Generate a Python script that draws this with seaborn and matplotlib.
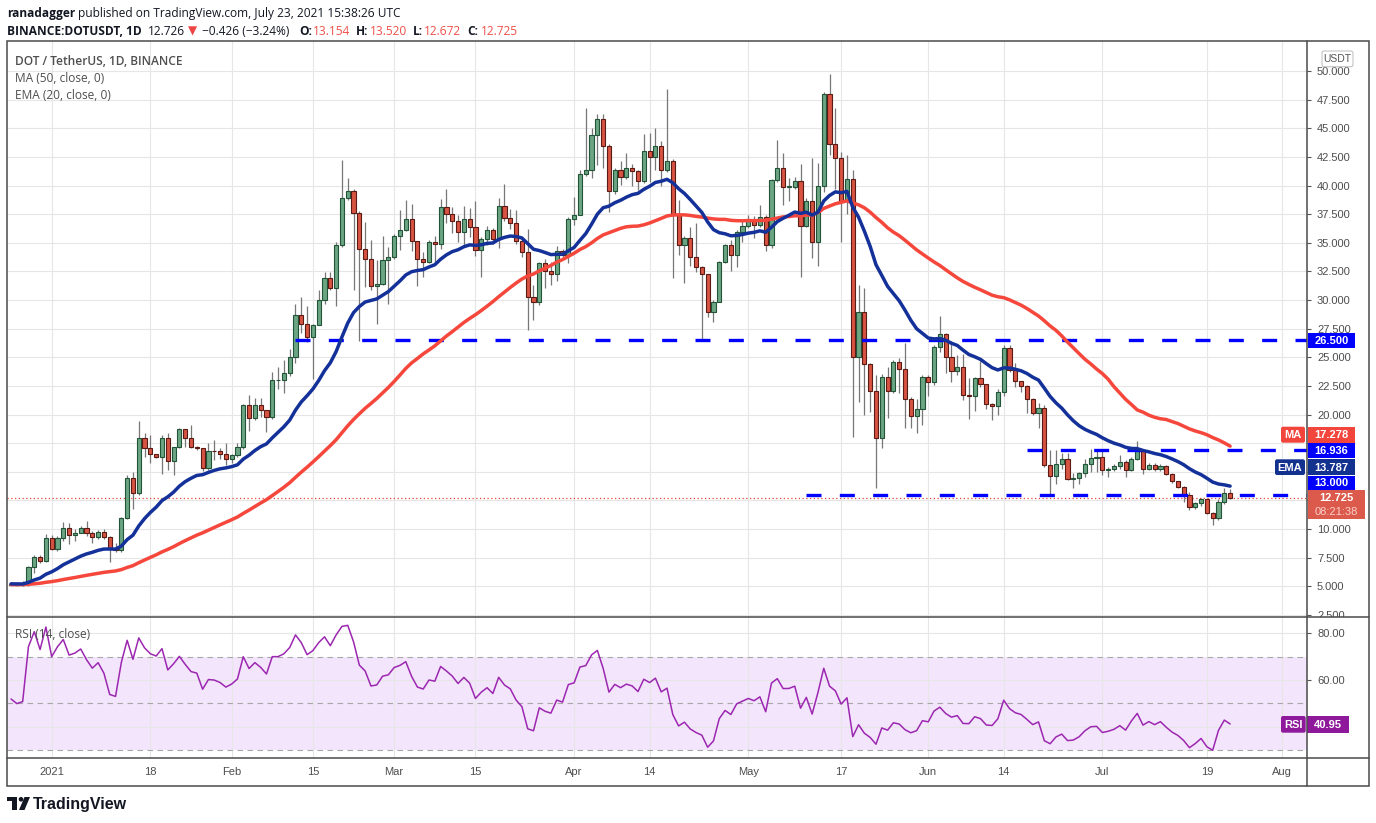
import numpy as np
import pandas as pd
import matplotlib
matplotlib.use("Agg")
import matplotlib.pyplot as plt
import seaborn as sns
from matplotlib.patches import Rectangle, FancyBboxPatch, Circle, Polygon
from matplotlib.transforms import Bbox, TransformedBbox

# ---------------- data (DOT/USDT daily) ----------------
start_date = "2020-12-25"
first_open = 5.15

dec_close = [5.22, 5.15, 5.18, 6.65, 7.60, 7.23, 9.25]
dec_high = [5.35, 5.30, 5.45, 6.79, 7.72, 7.72, 9.54]
dec_low = [5.10, 5.05, 5.00, 5.05, 6.16, 7.08, 7.17]

jan_close = [8.30, 9.25, 10.10, 9.48, 9.68, 10.10, 9.68, 9.33, 9.77, 9.33, 8.30, 8.20, 11.00, 14.45, 13.15,
             17.92, 17.05, 16.53, 16.33, 17.92, 15.95, 17.14, 18.70, 17.92, 17.20, 17.05, 15.38, 16.85, 16.80,
             16.56, 16.12]
jan_high = [9.48, 9.40, 10.60, 10.55, 9.97, 10.26, 10.72, 9.83, 9.88, 10.03, 9.40, 8.76, 11.07, 14.74, 15.03,
            19.42, 18.35, 18.20, 16.60, 18.20, 18.35, 17.20, 18.82, 18.70, 19.07, 17.30, 17.10, 17.54, 17.80,
            17.08, 17.50]
jan_low = [8.18, 8.10, 8.96, 8.73, 9.00, 9.68, 9.39, 8.82, 9.10, 9.10, 7.17, 8.00, 8.00, 10.90, 11.76,
           13.00, 16.27, 15.75, 16.20, 14.83, 15.17, 14.74, 17.10, 17.20, 17.05, 16.90, 15.09, 15.20, 16.07,
           16.12, 15.63]

feb_close = [16.50, 17.14, 20.80, 19.70, 20.80, 20.36, 19.75, 23.00, 23.00, 23.60, 25.00, 28.67, 27.95, 26.80,
             27.80, 30.04, 31.95, 31.08, 34.82, 38.90, 39.50, 37.60, 34.47, 33.60, 31.20, 31.43, 33.46, 33.80]
feb_high = [16.60, 17.50, 20.93, 21.72, 21.43, 21.43, 20.40, 23.70, 24.12, 24.76, 25.72, 29.69, 30.27, 29.49,
            27.90, 30.90, 32.44, 32.41, 35.05, 42.20, 40.64, 39.70, 37.80, 36.80, 35.25, 33.50, 35.63, 34.60]
feb_low = [15.78, 16.30, 17.00, 18.53, 19.50, 19.83, 18.44, 19.60, 22.20, 21.86, 23.40, 24.47, 27.14, 26.36,
           23.10, 29.54, 29.63, 30.90, 29.51, 34.60, 38.70, 30.85, 26.44, 31.14, 30.85, 27.95, 31.28, 29.69]

mar_close = [35.60, 36.15, 37.10, 35.17, 33.63, 33.34, 35.10, 34.94, 38.14, 37.56, 36.92, 35.96, 37.12, 36.40,
             34.33, 35.35, 36.10, 35.35, 38.20, 37.20, 36.70, 35.17, 34.20, 30.23, 29.80, 33.20, 32.56, 32.24,
             34.30, 33.98, 37.12]
mar_high = [35.78, 37.86, 38.72, 38.43, 35.20, 34.20, 35.29, 35.58, 38.87, 39.68, 38.14, 37.47, 38.23, 38.05,
            38.63, 35.50, 36.48, 36.30, 38.92, 40.12, 37.99, 37.85, 35.30, 36.19, 31.31, 33.34, 33.63, 33.34,
            34.71, 34.50, 37.27]
mar_low = [33.60, 34.33, 36.00, 34.30, 31.25, 32.03, 33.20, 33.34, 34.50, 36.69, 35.87, 35.09, 34.65, 35.52,
           33.84, 32.03, 34.80, 34.90, 34.56, 36.90, 36.25, 34.90, 33.78, 27.38, 28.26, 29.60, 31.02, 31.31,
           31.69, 33.70, 33.20]

apr_close = [37.47, 41.05, 41.40, 44.40, 45.84, 43.43, 39.50, 41.34, 40.76, 41.57, 41.28, 40.40, 42.99, 42.50,
             43.43, 41.40, 42.12, 37.40, 34.77, 35.40, 33.78, 32.90, 32.24, 28.92, 29.80, 33.34, 34.85, 33.98,
             35.96, 36.48]
apr_high = [39.01, 41.40, 46.80, 45.03, 46.28, 46.28, 43.60, 41.57, 42.12, 42.85, 41.92, 41.40, 44.53, 44.60,
            45.06, 43.87, 48.40, 42.30, 38.72, 35.60, 36.40, 36.77, 33.00, 32.30, 30.00, 33.40, 34.94, 35.23,
            36.10, 37.03]
apr_low = [36.54, 37.40, 40.80, 40.70, 41.83, 41.54, 37.70, 39.22, 40.03, 40.60, 39.94, 39.59, 40.20, 40.32,
           41.34, 39.94, 41.20, 31.95, 33.92, 31.51, 32.99, 32.47, 26.57, 28.49, 28.11, 31.31, 33.20, 32.56,
           32.91, 35.09]

may_close = [36.98, 36.60, 37.27, 34.77, 40.47, 41.57, 39.88, 39.90, 40.38, 36.48, 38.63, 35.09, 40.00, 48.02,
             43.66, 42.44, 38.66, 40.60, 25.00, 28.92, 24.42, 22.03, 17.94, 23.26, 22.10, 24.56, 23.98, 21.34,
             19.88, 20.47, 23.26]
may_high = [37.41, 37.33, 38.34, 37.40, 40.60, 43.95, 42.85, 40.70, 40.76, 41.86, 38.90, 42.44, 41.98, 48.20,
            49.77, 46.77, 42.90, 42.65, 41.40, 31.31, 31.08, 24.50, 23.46, 23.52, 24.19, 24.77, 24.91, 26.22,
            21.50, 21.34, 23.46]
may_low = [36.30, 35.46, 36.40, 34.30, 34.51, 40.30, 38.34, 38.66, 39.70, 32.03, 36.40, 33.69, 32.99, 39.45,
           42.65, 39.74, 35.09, 37.56, 18.02, 21.13, 19.97, 20.26, 13.63, 17.06, 19.68, 21.90, 21.86, 18.81,
           18.81, 18.37, 19.10]

jun_close = [22.82, 25.87, 27.00, 25.00, 23.80, 24.19, 21.72, 21.66, 23.17, 22.65, 20.90, 20.76, 22.00, 25.84,
             23.92, 22.94, 22.53, 21.40, 20.17, 20.61, 15.64, 14.68, 15.73, 16.16, 14.42, 14.50, 14.94, 15.73,
             16.25, 16.30]
jun_high = [23.46, 26.08, 28.60, 27.10, 26.42, 25.20, 25.26, 23.17, 23.30, 24.68, 22.70, 21.00, 22.20, 26.08,
            26.05, 24.53, 22.90, 22.60, 21.48, 21.02, 20.80, 16.89, 16.89, 16.69, 16.69, 14.94, 15.00, 16.10,
            16.98, 16.98]
jun_low = [21.63, 22.60, 25.50, 23.60, 22.88, 23.46, 21.28, 19.59, 20.35, 22.40, 20.47, 19.53, 19.97, 21.60,
           23.70, 22.41, 21.98, 20.15, 20.00, 18.87, 15.40, 12.97, 13.90, 15.29, 14.27, 13.55, 13.92, 14.51,
           15.00, 15.00]

jul_close = [15.15, 15.29, 15.50, 15.87, 15.20, 16.10, 16.89, 15.29, 15.64, 15.23, 15.50, 14.80, 14.16, 13.72,
             13.02, 11.95, 12.24, 12.59, 11.45, 10.93, 12.33, 13.154, 12.725]
jul_high = [16.89, 15.40, 15.73, 16.51, 16.00, 16.31, 17.67, 17.00, 15.80, 15.80, 15.65, 15.60, 14.90, 14.20,
            13.80, 13.20, 12.40, 12.76, 12.60, 11.50, 12.60, 13.55, 13.520]
jul_low = [14.71, 14.56, 15.06, 15.29, 14.51, 15.10, 16.00, 14.85, 15.20, 15.10, 15.10, 14.70, 14.00, 13.60,
           12.40, 11.70, 11.80, 12.00, 11.30, 10.35, 10.80, 12.20, 12.672]

# horizontal support / resistance levels and the date where each dashed line starts
level_values = [26.5, 16.936, 13.0]
level_starts = ["2021-02-12", "2021-06-18", "2021-05-11"]

tick_dates = ["2021-01-01", "2021-01-18", "2021-02-01", "2021-02-15", "2021-03-01", "2021-03-15",
              "2021-04-01", "2021-04-14", "2021-05-01", "2021-05-17", "2021-06-01", "2021-06-14",
              "2021-07-01", "2021-07-19", "2021-08-01"]
tick_labels = ["2021", "18", "Feb", "15", "Mar", "15", "Apr", "14", "May", "17", "Jun", "14", "Jul", "19", "Aug"]

price_ticks = [2.5 * k for k in range(1, 21)]
hidden_price_ticks = [12.5, 15.0, 17.5]   # covered by the value tags on the right axis
rsi_ticks = [40, 60, 80]
hidden_rsi_ticks = [40]

# ---------------- assemble ----------------
closes = np.array(dec_close + jan_close + feb_close + mar_close + apr_close + may_close + jun_close + jul_close)
highs = np.array(dec_high + jan_high + feb_high + mar_high + apr_high + may_high + jun_high + jul_high)
lows = np.array(dec_low + jan_low + feb_low + mar_low + apr_low + may_low + jun_low + jul_low)
n = len(closes)
ref = pd.Timestamp("2021-01-01")
dates = pd.date_range(start_date, periods=n, freq="D")
days = np.asarray((dates - ref).days, dtype=float)
opens = np.r_[first_open, closes[:-1]]
highs = np.maximum(highs, np.maximum(opens, closes))
lows = np.minimum(lows, np.minimum(opens, closes))

df = pd.DataFrame({"day": days, "open": opens, "high": highs, "low": lows, "close": closes})
# indicators
padded = pd.Series(np.r_[np.full(49, first_open), closes])
df["ma50"] = padded.rolling(50).mean().iloc[49:].to_numpy()
df["ema20"] = df["close"].ewm(span=20, adjust=False).mean()
delta = np.diff(np.r_[first_open, closes])
gain = pd.Series(np.r_[0.07, np.clip(delta, 0, None)]).ewm(alpha=1 / 14, adjust=False).mean().iloc[1:].to_numpy()
loss = pd.Series(np.r_[0.07, np.clip(-delta, 0, None)]).ewm(alpha=1 / 14, adjust=False).mean().iloc[1:].to_numpy()
df["rsi"] = 100 * gain / (gain + loss)

tick_days = [(pd.Timestamp(d) - ref).days for d in tick_dates]
lvl_start_days = [(pd.Timestamp(d) - ref).days for d in level_starts]

# ---------------- figure ----------------
W, H = 1376, 823
sns.set_theme(style="white")
plt.rcParams["font.family"] = ["Liberation Sans", "DejaVu Sans"]
HDR = ["Open Sans", "DejaVu Sans"]

fig = plt.figure(figsize=(W / 100, H / 100), dpi=100, facecolor="white")


def fx(px):
    return px / W


def fy(py):
    return 1 - py / H


L, R, RR = 6.7, 1307.3, 1369.3
TOP, SEP, BOT, OUTB = 40.7, 617.3, 758.3, 786.0

ax = fig.add_axes([fx(L), fy(SEP), fx(R) - fx(L), fy(TOP) - fy(SEP)])
axr = fig.add_axes([fx(L), fy(BOT), fx(R) - fx(L), fy(SEP) - fy(BOT)])
XMIN, XMAX = -7.75, 216.3
for a in (ax, axr):
    a.set_xlim(XMIN, XMAX)
    a.set_facecolor("white")
    for s in a.spines.values():
        s.set_visible(False)
    a.set_axisbelow(True)
    a.grid(True, color="#E6E6E6", lw=0.8)
    a.set_xticks(tick_days)
    a.yaxis.tick_right()

# --- main price pane
ax.set_ylim(2.3, 52.65)
ax.set_yticks(price_ticks)
ax.set_yticklabels(["" if v in hidden_price_ticks else f"{v:.3f}" for v in price_ticks])
ax.tick_params(axis="y", length=3, width=0.8, color="#555555", labelsize=8, labelcolor="#4D4D4D", pad=4)
ax.tick_params(axis="x", length=0, labelbottom=False)
clipbox = TransformedBbox(Bbox([[0, fy(SEP)], [1, 1]]), fig.transFigure)
for lab in ax.get_yticklabels():
    lab.set_clip_on(True)
    lab.set_clip_box(clipbox)

up = df["close"].to_numpy() >= df["open"].to_numpy()
body_lo = np.minimum(opens, closes)
body_h = np.maximum(np.abs(closes - opens), 0.05)
ax.vlines(days, lows, highs, color="#777777", lw=0.9, zorder=2)
ax.bar(days[up], body_h[up], bottom=body_lo[up], width=0.72, color="#6BA583", edgecolor="#225437",
       linewidth=0.8, zorder=3)
ax.bar(days[~up], body_h[~up], bottom=body_lo[~up], width=0.72, color="#D75442", edgecolor="#5B1A13",
       linewidth=0.8, zorder=3)

ax.axhline(closes[-1], color="#E0483A", lw=0.9, ls=(0, (1, 2)), zorder=2.5)
ax.hlines(level_values, lvl_start_days, XMAX, colors="#0000FF", lw=2.4, linestyles=[(0, (4.5, 5.5))],
          zorder=4)

sns.lineplot(data=df, x="day", y="ma50", ax=ax, color="#F5473C", linewidth=2.5, zorder=5, legend=False)
sns.lineplot(data=df, x="day", y="ema20", ax=ax, color="#14319A", linewidth=2.5, zorder=5, legend=False)
ax.set_xlabel("")
ax.set_ylabel("")

# --- RSI pane
axr.set_ylim(26.4, 86.9)
axr.set_yticks(rsi_ticks)
axr.set_yticklabels(["" if v in hidden_rsi_ticks else f"{v:.2f}" for v in rsi_ticks])
axr.tick_params(axis="y", length=3, width=0.8, color="#555555", labelsize=8, labelcolor="#4D4D4D", pad=4)
axr.axhspan(30, 70, color="#F3E5FC", zorder=0.2, lw=0)
for lv in (70, 50, 30):
    axr.axhline(lv, color="#A8A8A8", lw=0.8, ls=(0, (5, 4)), zorder=0.6)
sns.lineplot(data=df, x="day", y="rsi", ax=axr, color="#9C27B0", linewidth=1.1, zorder=3, legend=False)
axr.set_xlabel("")
axr.set_ylabel("")
axr.set_xticklabels(tick_labels)
axr.tick_params(axis="x", length=0, pad=6.5, labelsize=8, labelcolor="#4D4D4D")

# ---------------- overlay in pixel coordinates ----------------
ov = fig.add_axes([0, 0, 1, 1], zorder=10)
ov.set_xlim(0, W)
ov.set_ylim(H, 0)
ov.axis("off")

bc = "#4A4A4A"
ov.add_patch(Rectangle((L, TOP), RR - L, OUTB - TOP, fill=False, ec=bc, lw=1.1))
ov.plot([R, R], [TOP, OUTB], color=bc, lw=1.1)
ov.plot([L, RR], [SEP, SEP], color=bc, lw=1.1)
ov.plot([L, RR], [BOT, BOT], color=bc, lw=1.1)


def box(x0, y0, x1, y1, fc, text, tc="white", fs=8, weight="bold", rounded=False, ec="none"):
    if rounded:
        r = 2.0
        p = FancyBboxPatch((x0 + r, y0 + r), x1 - x0 - 2 * r, y1 - y0 - 2 * r,
                           boxstyle=f"round,pad={r}", fc=fc, ec=ec, lw=0.8)
    else:
        p = Rectangle((x0, y0), x1 - x0, y1 - y0, fc=fc, ec=ec, lw=0.8)
    ov.add_patch(p)
    if text:
        ov.text((x0 + x1) / 2, (y0 + y1) / 2 + 0.5, text, color=tc, fontsize=fs, fontweight=weight,
                ha="center", va="center")


BLUE, RED, NAVY, PURP = "#0000FF", "#F2463C", "#13318F", "#8E1A9B"
box(1322, 51, 1353, 66.7, "white", "USDT", tc="#555555", fs=7.5, weight="normal", rounded=True, ec="#C4C4C4")
box(1307.7, 333, 1355, 348.3, BLUE, "26.500")
box(1281, 426.7, 1305, 442.7, RED, "MA", rounded=True)
box(1307.7, 426.7, 1355, 442.7, RED, "17.278")
box(1307.7, 443.3, 1355, 458.3, BLUE, "16.936")
box(1275, 459.3, 1305, 475, NAVY, "EMA", rounded=True)
box(1307.7, 459.3, 1355, 475, NAVY, "13.787")
box(1307.7, 475.7, 1355, 490, BLUE, "13.000")
box(1307.7, 490.3, 1365, 519.3, "#DB5A4B", "")
ov.text(1336, 498, "12.725", color="white", fontsize=8, fontweight="bold", ha="center", va="center")
ov.text(1336, 512, "08:21:38", color="#FAD0CA", fontsize=8, ha="center", va="center")
box(1281, 716, 1305.7, 732.7, PURP, "RSI", rounded=True)
box(1307.3, 716, 1349.3, 732.7, PURP, "40.95")

# header
HS = 8.6
ov.text(7, 13, "ranadagger", fontsize=HS, fontweight="bold", color="#131722", family=HDR, va="center")
ov.text(78, 13, "published on TradingView.com, July 23, 2021 15:38:26 UTC", fontsize=HS, color="#131722",
        family=HDR, va="center")
RED_T = "#F0504A"
hdr2 = [(7, "BINANCE:DOTUSDT, 1D", "#131722", "bold"),
        (148, "12.726", "#131722", "normal"),
        (188, "\u25BC", "#EF4444", "normal"),
        (202, "\u22120.426 (\u22123.24%)", "#131722", "normal"),
        (299, "O:", "#131722", "bold"),
        (313, "13.154", RED_T, "normal"),
        (356, "H:", "#131722", "bold"),
        (370, "13.520", RED_T, "normal"),
        (413, "L:", "#131722", "bold"),
        (424, "12.672", RED_T, "normal"),
        (467, "C:", "#131722", "bold"),
        (481, "12.725", RED_T, "normal")]
for x, t, c, w in hdr2:
    ov.text(x, 31, t, fontsize=HS, color=c, fontweight=w, family=HDR, va="center")

# legends inside panes
LG = "#4F4F4F"
ov.text(15, 61, "DOT / TetherUS, 1D, BINANCE", fontsize=HS, color=LG, fontweight="semibold", family=HDR,
        va="center")
ov.text(15, 78, "MA (50, close, 0)", fontsize=HS, color=LG, family=HDR, va="center")
ov.text(15, 95, "EMA (20, close, 0)", fontsize=HS, color=LG, family=HDR, va="center")
ov.text(15, 634, "RSI (14, close)", fontsize=HS, color=LG, family=HDR, va="center")

# TradingView logo
LOGO = "#131722"
ov.add_patch(Rectangle((7, 797), 10, 4.2, fc=LOGO, ec="none"))
ov.add_patch(Rectangle((12, 797), 5, 13, fc=LOGO, ec="none"))
ov.add_patch(Circle((21, 799.3), 2.3, fc=LOGO, ec="none"))
ov.add_patch(Polygon([[24.5, 797], [30, 797], [24.5, 810], [19, 810]], closed=True, fc=LOGO, ec="none"))
ov.text(33, 804, "TradingView", fontsize=11.5, fontweight="bold", color=LOGO, va="center")

fig.savefig("out.png", dpi=100, facecolor="white")
